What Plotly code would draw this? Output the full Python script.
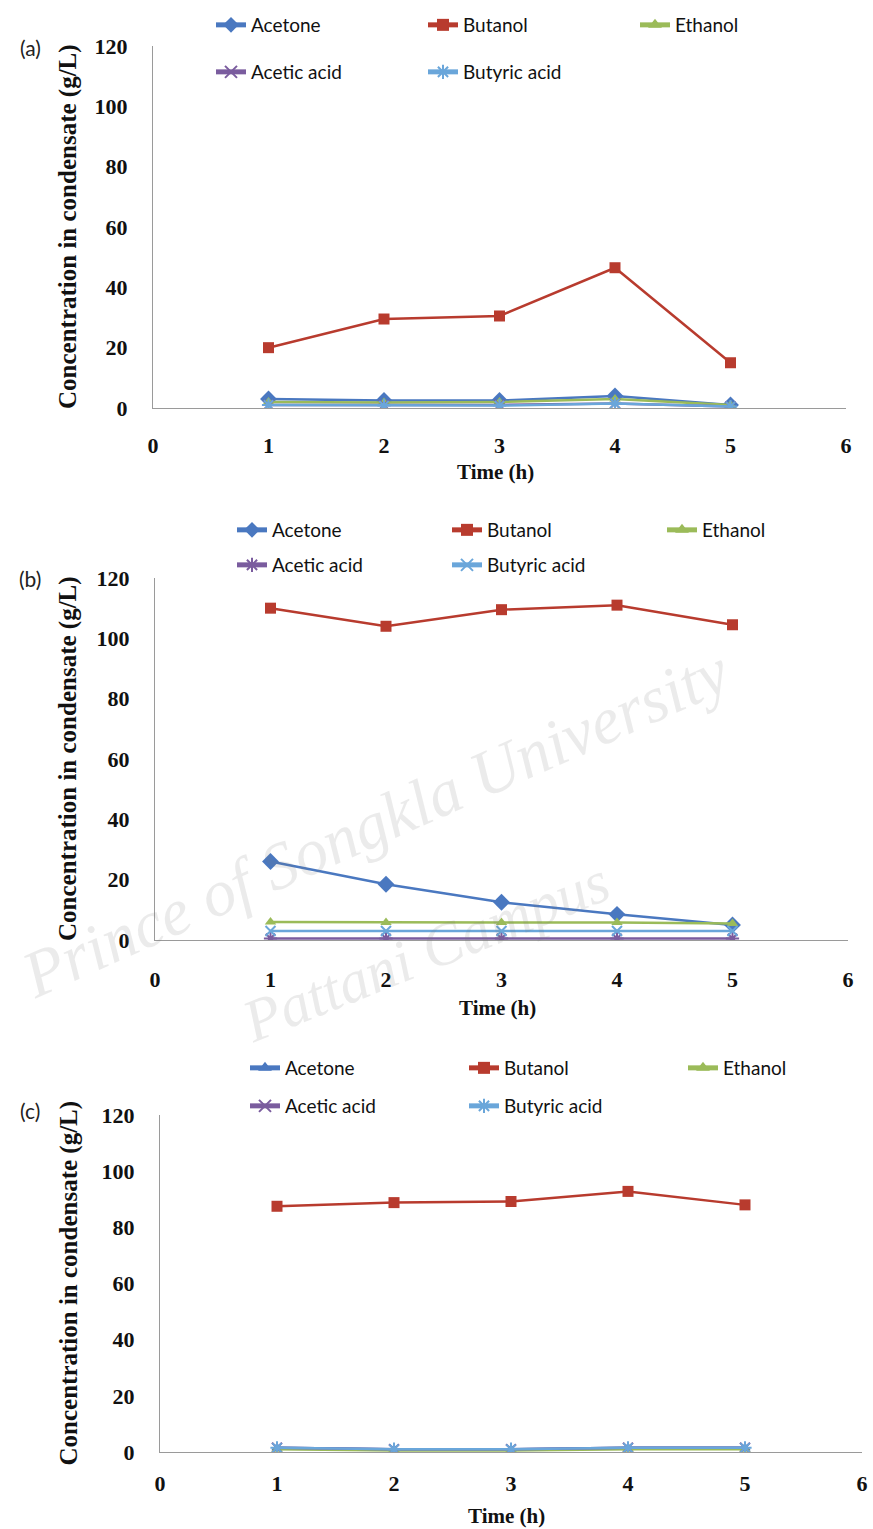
import plotly.graph_objects as go

# ---------------- data ----------------
time_h = [1, 2, 3, 4, 5]
x_ticks = [0, 1, 2, 3, 4, 5, 6]
y_ticks = [0, 20, 40, 60, 80, 100, 120]
series_names = ["Acetone", "Butanol", "Ethanol", "Acetic acid", "Butyric acid"]
panel_labels = ["(a)", "(b)", "(c)"]

# panel (a)
a_acetone = [3.0, 2.5, 2.5, 4.0, 1.0]
a_butanol = [20.0, 29.5, 30.5, 46.5, 15.0]
a_ethanol = [2.0, 1.8, 2.0, 3.0, 1.0]
a_acetic = [1.0, 1.0, 1.0, 1.5, 0.5]
a_butyric = [1.0, 0.8, 0.8, 1.5, 0.5]

# panel (b)
b_acetone = [26.0, 18.5, 12.5, 8.5, 5.0]
b_butanol = [110.0, 104.0, 109.5, 111.0, 104.5]
b_ethanol = [6.0, 5.8, 5.8, 5.8, 5.5]
b_acetic = [0.5, 0.5, 0.5, 0.5, 0.5]
b_butyric = [3.0, 3.0, 3.0, 3.0, 3.0]

# panel (c)
c_acetone = [1.5, 1.0, 1.0, 1.5, 1.5]
c_butanol = [87.5, 88.8, 89.2, 92.8, 88.0]
c_ethanol = [1.0, 0.5, 0.5, 1.0, 1.0]
c_acetic = [1.5, 1.0, 1.0, 1.5, 1.5]
c_butyric = [1.5, 1.0, 1.0, 1.5, 1.5]

panels = [
    [a_acetone, a_butanol, a_ethanol, a_acetic, a_butyric],
    [b_acetone, b_butanol, b_ethanol, b_acetic, b_butyric],
    [c_acetone, c_butanol, c_ethanol, c_acetic, c_butyric],
]

# ---------------- styling ----------------
W, H = 873, 1529
colors = ["#4A78C0", "#B83B2E", "#9BBB59", "#7A5C9E", "#6AA6DA"]
symbols = [
    ["diamond", "square", "triangle-up", "x-thin-open", "asterisk-open"],
    ["diamond", "square", "triangle-up", "asterisk-open", "x-thin-open"],
    ["triangle-up", "square", "triangle-up", "x-thin-open", "asterisk-open"],
]
sizes = {"diamond": 13, "square": 11, "triangle-up": 10, "x-thin-open": 10, "asterisk-open": 11}

# plot area pixel geometry per panel: (x0px, x6px, y0px(value 0), y120px)
geom = [
    (153, 846, 408, 46),
    (155, 848, 940, 578),
    (160, 862, 1452, 1115),
]
x_ticklen = [17, 19, 11]
time_offset = [64, 68, 64]
legend_rows = [(25, 72), (530, 565), (1068, 1106)]
legend_x = [211, 232, 245]
legend_entry_w = [167, 170, 174]
label_pos = [(30, 47), (30, 578), (30, 1110)]

serif = "Liberation Serif"
sans = "Lato"

fig = go.Figure()

for p in range(3):
    xa = "x" if p == 0 else f"x{p+1}"
    ya = "y" if p == 0 else f"y{p+1}"
    leg1 = f"legend{2*p+1}" if p > 0 else "legend"
    leg2 = f"legend{2*p+2}"
    for i, name in enumerate(series_names):
        sym = symbols[p][i]
        is_open = sym.endswith("-open")
        marker = dict(symbol=sym, size=sizes[sym], color=colors[i])
        if is_open:
            marker["line"] = dict(color=colors[i], width=2)
        fig.add_trace(go.Scatter(
            x=time_h, y=panels[p][i], name=name, mode="lines+markers",
            line=dict(color=colors[i], width=2.5),
            marker=marker, xaxis=xa, yaxis=ya,
            legend=leg1 if i < 3 else leg2,
        ))

layout = dict(
    width=W, height=H, margin=dict(l=0, r=0, t=0, b=0, autoexpand=False),
    paper_bgcolor="white", plot_bgcolor="white", showlegend=True,
)

annotations = []
for p, (x0, x6, y0, y120) in enumerate(geom):
    sfx = "" if p == 0 else str(p + 1)
    ax_common = dict(showgrid=False, zeroline=False, showline=True,
                     linecolor="#9a9a9a", linewidth=1.2,
                     tickfont=dict(family=serif, size=22, color="#111", weight="bold"),
                     ticks="outside", tickcolor="rgba(0,0,0,0)", automargin=False)
    layout["xaxis" + sfx] = dict(
        domain=[x0 / W, x6 / W], range=[0, 6], tickvals=x_ticks,
        ticklen=x_ticklen[p], anchor="y" + sfx, **ax_common)
    layout["yaxis" + sfx] = dict(
        domain=[1 - y0 / H, 1 - y120 / H], range=[0, 120], tickvals=y_ticks,
        ticklen=20, anchor="x" + sfx, **ax_common)

    # axis titles
    annotations.append(dict(
        text="<b>Time (h)</b>", x=(x0 + x6) / 2 / W - 0.005, y=1 - (y0 + time_offset[p]) / H,
        xref="paper", yref="paper", showarrow=False,
        font=dict(family=serif, size=21, color="#111"), xanchor="center", yanchor="middle"))
    annotations.append(dict(
        text="<b>Concentration in condensate (g/L)</b>", x=68 / W,
        y=1 - (y0 + y120) / 2 / H, xref="paper", yref="paper", showarrow=False,
        textangle=-90, font=dict(family=serif, size=25, color="#111"),
        xanchor="center", yanchor="middle"))
    # panel label
    lx, ly = label_pos[p]
    annotations.append(dict(
        text=panel_labels[p], x=lx / W, y=1 - ly / H, xref="paper", yref="paper",
        showarrow=False, font=dict(family=sans, size=21, color="#222"),
        xanchor="center", yanchor="middle"))

    # legends
    r1, r2 = legend_rows[p]
    leg_common = dict(orientation="h", xanchor="left", yanchor="middle",
                      font=dict(family=sans, size=19, color="#111"),
                      bgcolor="rgba(0,0,0,0)", entrywidth=legend_entry_w[p],
                      entrywidthmode="pixels", itemsizing="constant")
    name1 = "legend" if p == 0 else f"legend{2*p+1}"
    name2 = f"legend{2*p+2}"
    layout[name1] = dict(x=legend_x[p] / W, y=1 - r1 / H, **leg_common)
    layout[name2] = dict(x=legend_x[p] / W, y=1 - r2 / H, **leg_common)

# scanned thesis watermark
annotations.append(dict(
    text="Prince of Songkla University", x=375 / W, y=1 - 822 / H, xref="paper", yref="paper",
    showarrow=False, textangle=-24,
    font=dict(family=serif, size=66, color="rgba(120,120,120,0.15)", style="italic")))
annotations.append(dict(
    text="Pattani Campus", x=425 / W, y=1 - 952 / H, xref="paper", yref="paper",
    showarrow=False, textangle=-22,
    font=dict(family=serif, size=60, color="rgba(120,120,120,0.15)", style="italic")))

layout["annotations"] = annotations
fig.update_layout(**layout)
fig.write_html("out.html", config={"displayModeBar": False},
               post_script="document.body.style.margin='0';")
